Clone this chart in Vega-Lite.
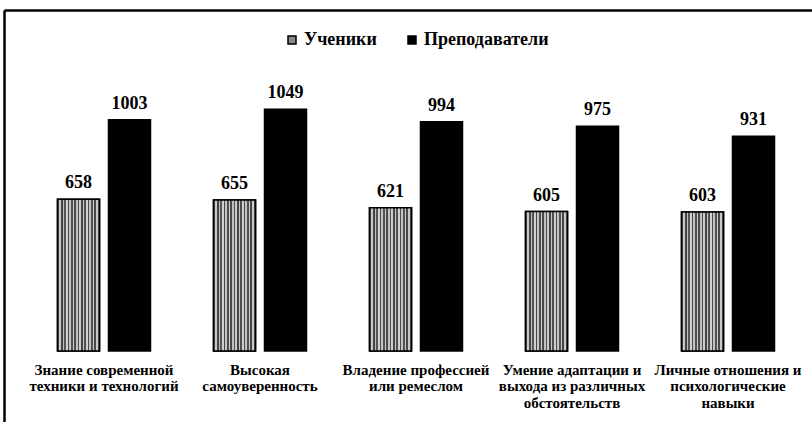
{
  "$schema": "https://vega.github.io/schema/vega-lite/v6.json",
  "autosize": {"type": "none"},
  "padding": {"left": 4, "top": 10, "right": 0, "bottom": 0},
  "width": 808,
  "height": 412,
  "config": {
    "font": "Liberation Serif",
    "view": {"stroke": null, "fill": "white"},
    "background": "white"
  },
  "data": {
    "values": [
      {"cat": "Знание современной\nтехники  и технологий", "group": "Ученики", "value": 658},
      {"cat": "Знание современной\nтехники  и технологий", "group": "Преподаватели", "value": 1003},
      {"cat": "Высокая\nсамоуверенность", "group": "Ученики", "value": 655},
      {"cat": "Высокая\nсамоуверенность", "group": "Преподаватели", "value": 1049},
      {"cat": "Владение профессией\nили ремеслом", "group": "Ученики", "value": 621},
      {"cat": "Владение профессией\nили ремеслом", "group": "Преподаватели", "value": 994},
      {"cat": "Умение адаптации и\nвыхода из различных\nобстоятельств", "group": "Ученики", "value": 605},
      {"cat": "Умение адаптации и\nвыхода из различных\nобстоятельств", "group": "Преподаватели", "value": 975},
      {"cat": "Личные отношения и\nпсихологические\nнавыки", "group": "Ученики", "value": 603},
      {"cat": "Личные отношения и\nпсихологические\nнавыки", "group": "Преподаватели", "value": 931}
    ]
  },
  "encoding": {
    "x": {
      "field": "cat", "type": "nominal", "sort": null,
      "scale": {"paddingInner": 0.404, "paddingOuter": 0.2917, "align": 0.588},
      "axis": {
        "title": null, "orient": "bottom", "offset": -71, "domain": false, "ticks": false,
        "labelAngle": 0, "labelExpr": "split(datum.label, '\\n')", "labelFont": "Liberation Serif",
        "labelFontWeight": "bold", "labelFontSize": 15, "labelColor": "black", "labelPadding": 11,
        "labelLineHeight": 16.5, "labelLimit": 300, "labelAlign": "center", "labelBaseline": "top"
      }
    },
    "xOffset": {
      "field": "group", "type": "nominal", "sort": ["Ученики", "Преподаватели"],
      "scale": {"paddingInner": 0.176, "paddingOuter": 0}
    },
    "y": {
      "field": "value", "type": "quantitative",
      "scale": {"domain": [-308, 1479], "nice": false, "zero": false},
      "axis": {
        "title": null, "orient": "left", "domain": true, "domainColor": "black", "domainWidth": 2.5,
        "ticks": false, "labels": false, "grid": true, "values": [1479],
        "gridColor": "black", "gridWidth": 2.5, "gridOpacity": 1
      }
    }
  },
  "layer": [
    {
      "mark": {"type": "bar", "stroke": "black", "strokeWidth": 1.5},
      "encoding": {
        "color": {
          "field": "group", "type": "nominal",
          "scale": {"domain": ["Ученики", "Преподаватели"], "range": ["#8a8a8a", "black"]},
          "legend": {
            "title": null, "orient": "none", "direction": "horizontal", "legendX": 279, "legendY": 21,
            "symbolType": "square", "symbolSize": 64, "symbolStrokeColor": "black", "symbolStrokeWidth": 1.5,
            "labelFont": "Liberation Serif", "labelFontWeight": "bold", "labelFontSize": 18,
            "labelColor": "black", "labelOffset": 3, "columnPadding": 26, "labelLimit": 400
          }
        }
      }
    },
    {
      "transform": [{"filter": "datum.group === 'Ученики'"}],
      "mark": {
        "type": "bar", "stroke": "black", "strokeWidth": 1.5,
        "fill": {
          "gradient": "linear", "x1": 0, "x2": 1, "y1": 0, "y2": 0,
          "stops": [
            {"offset": 0.0, "color": "#505050"}, {"offset": 0.04, "color": "#505050"},
            {"offset": 0.04, "color": "#c8c8c8"}, {"offset": 0.08, "color": "#c8c8c8"},
            {"offset": 0.08, "color": "#444444"}, {"offset": 0.12, "color": "#444444"},
            {"offset": 0.12, "color": "#bdbdbd"}, {"offset": 0.16, "color": "#bdbdbd"},
            {"offset": 0.16, "color": "#555555"}, {"offset": 0.2, "color": "#555555"},
            {"offset": 0.2, "color": "#d0d0d0"}, {"offset": 0.24, "color": "#d0d0d0"},
            {"offset": 0.24, "color": "#484848"}, {"offset": 0.28, "color": "#484848"},
            {"offset": 0.28, "color": "#c4c4c4"}, {"offset": 0.32, "color": "#c4c4c4"},
            {"offset": 0.32, "color": "#505050"}, {"offset": 0.36, "color": "#505050"},
            {"offset": 0.36, "color": "#cccccc"}, {"offset": 0.4, "color": "#cccccc"},
            {"offset": 0.4, "color": "#4a4a4a"}, {"offset": 0.44, "color": "#4a4a4a"},
            {"offset": 0.44, "color": "#c0c0c0"}, {"offset": 0.48, "color": "#c0c0c0"},
            {"offset": 0.48, "color": "#545454"}, {"offset": 0.52, "color": "#545454"},
            {"offset": 0.52, "color": "#cacaca"}, {"offset": 0.56, "color": "#cacaca"},
            {"offset": 0.56, "color": "#464646"}, {"offset": 0.6, "color": "#464646"},
            {"offset": 0.6, "color": "#c6c6c6"}, {"offset": 0.64, "color": "#c6c6c6"},
            {"offset": 0.64, "color": "#505050"}, {"offset": 0.68, "color": "#505050"},
            {"offset": 0.68, "color": "#cecece"}, {"offset": 0.72, "color": "#cecece"},
            {"offset": 0.72, "color": "#4c4c4c"}, {"offset": 0.76, "color": "#4c4c4c"},
            {"offset": 0.76, "color": "#c2c2c2"}, {"offset": 0.8, "color": "#c2c2c2"},
            {"offset": 0.8, "color": "#525252"}, {"offset": 0.84, "color": "#525252"},
            {"offset": 0.84, "color": "#cacaca"}, {"offset": 0.88, "color": "#cacaca"},
            {"offset": 0.88, "color": "#484848"}, {"offset": 0.92, "color": "#484848"},
            {"offset": 0.92, "color": "#c8c8c8"}, {"offset": 0.96, "color": "#c8c8c8"},
            {"offset": 0.96, "color": "#505050"}, {"offset": 1.0, "color": "#505050"}
          ]
        }
      },
      "encoding": {}
    },
    {
      "mark": {"type": "text", "font": "Liberation Serif", "fontWeight": "bold", "fontSize": 18, "baseline": "alphabetic", "dy": -11, "color": "black"},
      "encoding": {"text": {"field": "value", "type": "quantitative"}}
    }
  ]
}
